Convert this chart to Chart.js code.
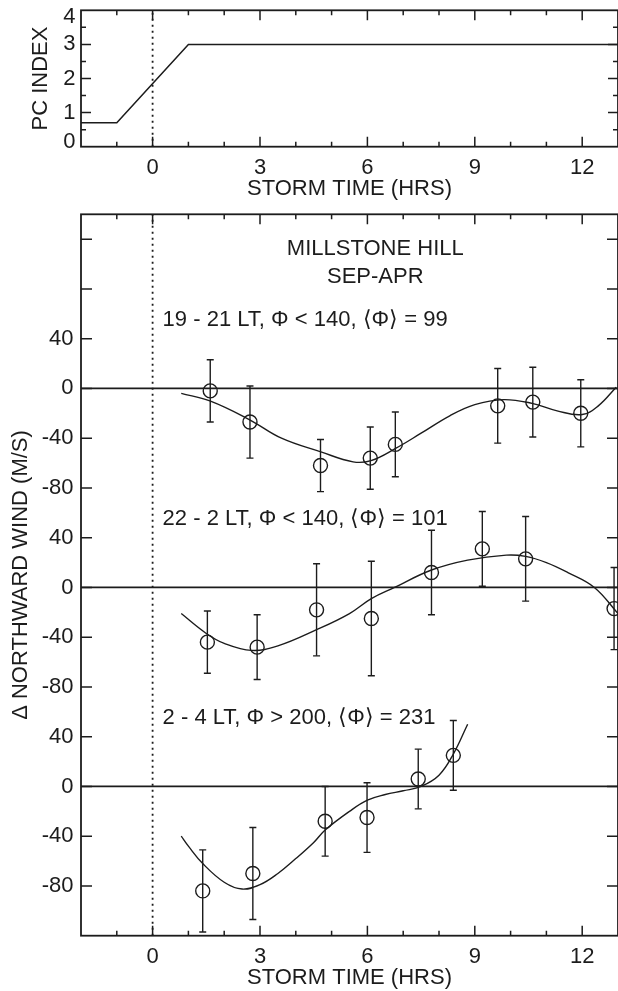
<!DOCTYPE html>
<html><head><meta charset="utf-8">
<script src="https://cdn.jsdelivr.net/npm/chart.js@4.4.1/dist/chart.umd.min.js"></script>
<style>
html,body{margin:0;padding:0;background:#fff;width:618px;height:991px;overflow:hidden}
canvas{position:absolute;left:0;display:block}
#c1{top:0}
#c2{top:205px}
</style></head><body>
<canvas id="c1" width="618" height="205"></canvas>
<canvas id="c2" width="618" height="786"></canvas>
<script>
// ---------------- data ----------------
const pcHours = [-2, -1, 1, 13];
const pcIndex = [0.7, 0.7, 3, 3];

const groupTitles = [
  '19 - 21 LT, \u03A6 < 140, \u27E8\u03A6\u27E9 = 99',
  '22 - 2 LT, \u03A6 < 140, \u27E8\u03A6\u27E9 = 101',
  '2 - 4 LT, \u03A6 > 200, \u27E8\u03A6\u27E9 = 231'
];
const siteTitle = 'MILLSTONE HILL';
const seasonTitle = 'SEP-APR';

// 19 - 21 LT
const hours1 = [1.61, 2.72, 4.69, 6.08, 6.78, 9.64, 10.62, 11.96];
const wind1  = [-2, -27, -62, -56, -45, -14, -11, -20];
const err1   = [25, 29, 21, 25, 26, 30, 28, 27];
const fitHours1 = [0.8, 1.6, 2.7, 3.6, 4.7, 5.6, 6.1, 6.8, 7.5, 8.3, 9.0, 9.8, 10.6, 11.3, 12.0, 12.45, 12.95];
const fit1      = [-4, -10, -25, -40, -51, -59, -58, -48, -36, -22, -13, -9, -12, -18, -21, -14, 1];

// 22 - 2 LT
const hours2 = [1.53, 2.92, 4.58, 6.11, 7.79, 9.21, 10.42, 12.89];
const wind2  = [-44, -48, -18, -25, 12, 31, 23, -17];
const err2   = [25, 26, 37, 46, 34, 30, 34, 33];
const fitHours2 = [0.8, 1.5, 2.0, 2.76, 3.5, 4.58, 5.5, 6.11, 6.76, 7.79, 8.8, 9.88, 10.42, 11.0, 11.6, 12.34, 13.0];
const fit2      = [-21, -37, -45, -50.6, -47, -34, -21, -9, 0, 14, 22, 26, 25, 20, 12, 0, -21];

// 2 - 4 LT
const hours3 = [1.40, 2.80, 4.82, 5.99, 7.42, 8.40];
const wind3  = [-84, -70, -28, -25, 6, 25];
const err3   = [33, 37, 28, 28, 24, 28];
const fitHours3 = [0.8, 1.0, 1.4, 2.0, 2.5, 3.0, 3.5, 4.0, 4.5, 4.82, 5.5, 6.0, 6.5, 7.0, 7.5, 8.0, 8.4, 8.8];
const fit3      = [-40, -48, -62, -77, -82.5, -79, -70, -58, -45, -35, -20, -11, -6.5, -3.5, 0, 9, 26, 50];

// axes / ticks
const hourMin = -2, hourMax = 13;
const hourTicks = [-1, 0, 1, 2, 3, 4, 5, 6, 7, 8, 9, 10, 11, 12];
const pcTicks = [0, 1, 2, 3, 4];
const pcMinorTicks = [0.5, 1.5, 2.5, 3.5];
const windTickValues = [-80, -40, 0, 40];
const groupOffsets = [320, 160, 0];       // vertical stacking of the three groups
const stackMin = -120, stackMax = 460, stackStep = 40;

// ---------------- style ----------------
const ink = '#1c1c1c';
const FAMILY = "'Liberation Sans', Arial, Helvetica, sans-serif";
const font = {family: FAMILY, size: 22, lineHeight: 1.2};
Chart.defaults.font.family = FAMILY;
Chart.defaults.color = ink;

// ---------------- plugins ----------------
const framePlugin = {
  id: 'frame',
  afterDatasetsDraw(chart, _args, o) {
    const {ctx, chartArea: a} = chart;
    const xs = chart.scales.x, ys = chart.scales.y;
    ctx.save();
    ctx.strokeStyle = ink;
    ctx.lineWidth = 1.5;
    ctx.beginPath();
    for (const t of o.xTicks) {
      const p = xs.getPixelForValue(t.v);
      ctx.moveTo(p, a.bottom); ctx.lineTo(p, a.bottom - t.len);
      ctx.moveTo(p, a.top); ctx.lineTo(p, a.top + t.len);
    }
    for (const t of o.yTicks) {
      const p = ys.getPixelForValue(t.v);
      ctx.moveTo(a.left, p); ctx.lineTo(a.left + t.len, p);
      ctx.moveTo(a.right, p); ctx.lineTo(a.right - t.len, p);
    }
    ctx.stroke();
    ctx.lineWidth = 1.8;
    ctx.strokeRect(a.left, a.top, a.right - a.left, a.bottom - a.top);
    ctx.restore();
  }
};
const notesPlugin = {
  id: 'notes',
  afterDatasetsDraw(chart, _args, o) {
    if (!o.items) return;
    const {ctx} = chart;
    const xs = chart.scales.x, ys = chart.scales.y;
    ctx.save();
    ctx.fillStyle = ink;
    ctx.font = `${font.size}px ${FAMILY}`;
    ctx.textBaseline = 'middle';
    for (const n of o.items) {
      ctx.textAlign = n.align;
      ctx.fillText(n.text, xs.getPixelForValue(n.x), ys.getPixelForValue(n.y));
    }
    ctx.restore();
  }
};

const xTickMarks = hourTicks.map(v => ({v, len: v % 3 === 0 ? 10 : 5}));

function xScale(h) {
  return {
    type: 'linear', min: hourMin, max: hourMax,
    afterBuildTicks: s => { s.ticks = [hourMin, ...hourTicks].map(v => ({value: v})); },
    ticks: {autoSkip: false, maxRotation: 0, padding: 8, color: ink, font,
      callback: v => (v >= 0 && v % 3 === 0) ? String(v) : ''},
    grid: {display: false, drawTicks: false, drawOnChartArea: false},
    border: {display: false},
    title: {display: true, text: 'STORM TIME (HRS)', color: ink, font, padding: {top: 0, bottom: 0}},
    afterFit: s => { s.height = h; s.paddingLeft = 0; s.paddingRight = 0; }
  };
}
function yScale(min, max, tickVals, labelFn, pad, title, titlePad, tickFont) {
  return {
    type: 'linear', min, max,
    afterBuildTicks: s => { s.ticks = tickVals.map(v => ({value: v})); },
    ticks: {autoSkip: false, padding: pad, color: ink, font: tickFont || font, callback: labelFn},
    grid: {display: false, drawTicks: false, drawOnChartArea: false},
    border: {display: false},
    title: {display: true, text: title, color: ink, font, padding: {top: titlePad, bottom: 0}},
    afterFit: s => { s.width = 81; s.paddingTop = 0; s.paddingBottom = 0; }
  };
}
function line(data, extra) {
  return Object.assign({type: 'line', data, borderColor: ink, borderWidth: 1.4,
    pointRadius: 0, tension: 0, fill: false, spanGaps: false}, extra || {});
}

// ---------------- top panel: PC index ----------------
// end labels sit inside the frame (top one nudged down, bottom one nudged up)
const pcLabel = v => v === pcTicks[pcTicks.length - 1] ? ['', String(v)] : v === pcTicks[0] ? [String(v), ''] : String(v);
const pcTickFont = c => {
  const v = c.tick ? c.tick.value : null;
  if (v === pcTicks[pcTicks.length - 1]) return {family: FAMILY, size: 22, lineHeight: '13px'};
  if (v === pcTicks[0]) return {family: FAMILY, size: 22, lineHeight: '10px'};
  return font;
};

new Chart(document.getElementById('c1'), {
  type: 'line',
  data: {datasets: [
    line(pcHours.map((h, i) => ({x: h, y: pcIndex[i]})), {borderWidth: 1.5}),
    line([{x: 0, y: 0}, {x: 0, y: 4}], {borderWidth: 1.8, borderDash: [2, 4]})
  ]},
  options: {
    responsive: false, animation: false, devicePixelRatio: 1,
    layout: {autoPadding: false, padding: {left: 0, right: -4.5, top: 10.3, bottom: 2.6}},
    plugins: {legend: {display: false}, tooltip: {enabled: false},
      frame: {xTicks: xTickMarks,
        yTicks: [...pcTicks.slice(1, -1).map(v => ({v, len: 10})), ...pcMinorTicks.map(v => ({v, len: 5}))]}},
    scales: {
      x: xScale(55.7),
      y: yScale(0, 4, pcTicks, pcLabel, 5.5, 'PC INDEX', 28, pcTickFont)
    }
  },
  plugins: [framePlugin]
});

// ---------------- bottom panel: wind ----------------
const groups = [
  {hours: hours1, wind: wind1, err: err1, fh: fitHours1, fv: fit1},
  {hours: hours2, wind: wind2, err: err2, fh: fitHours2, fv: fit2},
  {hours: hours3, wind: wind3, err: err3, fh: fitHours3, fv: fit3}
];
const windDatasets = [];
const notes = [
  {text: siteTitle, x: 6.22, y: 432, align: 'center'},
  {text: seasonTitle, x: 6.22, y: 410, align: 'center'}
];
groups.forEach((g, gi) => {
  const off = groupOffsets[gi];
  // zero line
  windDatasets.push(line([{x: hourMin, y: off}, {x: hourMax, y: off}], {borderWidth: 1.7}));
  // fitted curve
  windDatasets.push(line(g.fh.map((h, i) => ({x: h, y: g.fv[i] + off})), {tension: 0.4, borderWidth: 1.4}));
  // error bars
  const eb = [];
  g.hours.forEach((h, i) => {
    eb.push({x: h, y: g.wind[i] - g.err[i] + off}, {x: h, y: g.wind[i] + g.err[i] + off}, {x: h, y: null});
  });
  windDatasets.push(line(eb, {borderWidth: 1.4, pointStyle: 'line', pointRadius: 3.5,
    pointBorderWidth: 1.4, pointBorderColor: ink, pointHoverRadius: 3.5}));
  // observed means
  windDatasets.push({type: 'scatter', data: g.hours.map((h, i) => ({x: h, y: g.wind[i] + off})),
    showLine: false, pointStyle: 'circle', pointRadius: 7, pointHoverRadius: 7,
    pointBorderWidth: 1.4, pointBorderColor: ink, pointBackgroundColor: 'rgba(0,0,0,0)'});
  notes.push({text: groupTitles[gi], x: 0.28, y: off + 55, align: 'left'});
});
windDatasets.push(line([{x: 0, y: stackMin}, {x: 0, y: stackMax}], {borderWidth: 1.8, borderDash: [2, 4]}));

const stackTicks = [];
for (let v = stackMin; v <= stackMax; v += stackStep) stackTicks.push(v);
function windLabel(v) {
  for (const off of groupOffsets) {
    const raw = v - off;
    if (windTickValues.includes(raw)) return String(raw);
  }
  return '';
}

new Chart(document.getElementById('c2'), {
  type: 'line',
  data: {datasets: windDatasets},
  options: {
    responsive: false, animation: false, devicePixelRatio: 1,
    layout: {autoPadding: false, padding: {left: 0, right: -4.5, top: 9.3, bottom: 0}},
    plugins: {legend: {display: false}, tooltip: {enabled: false},
      frame: {xTicks: xTickMarks, yTicks: stackTicks.filter(v => v > stackMin).map(v => ({v, len: 11}))},
      notes: {items: notes}},
    scales: {
      x: xScale(55.3),
      y: yScale(stackMin, stackMax, stackTicks, windLabel, 7.5, '\u0394 NORTHWARD WIND (M/S)', 8)
    }
  },
  plugins: [framePlugin, notesPlugin]
});
</script>
</body></html>
